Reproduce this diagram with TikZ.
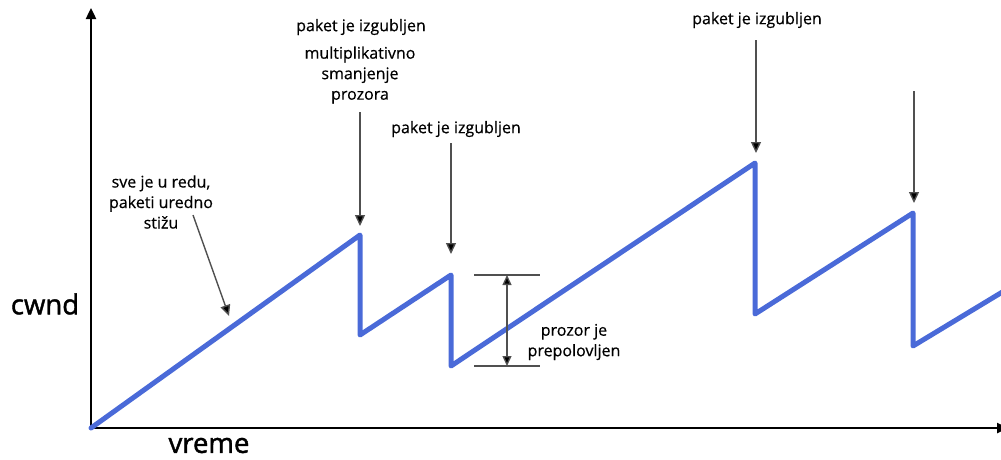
\documentclass[tikz,border=0pt]{standalone}
\usepackage{fontspec}
\setmainfont{Open Sans}
\newfontfamily\labelfont[FakeBold=0.5]{Open Sans}
\newfontfamily\axisfont[FakeBold=1.5]{Open Sans}
\usetikzlibrary{arrows.meta}
\definecolor{cwndblue}{HTML}{4A6AD8}
\definecolor{pointer}{HTML}{505050}
\tikzset{
  axis/.style={line width=2.4pt, black, -{Triangle[length=11pt,width=10pt]}},
  curve/.style={line width=5pt, cwndblue, line join=round, line cap=round},
  pointerarrow/.style={line width=1.4pt, pointer, -{Triangle[length=11pt,width=10pt,fill=black]}},
  lbl/.style={font=\labelfont\fontsize{16}{20.5}\selectfont, align=center, inner sep=0pt},
  biglbl/.style={font=\axisfont\fontsize{27.5}{32}\selectfont, inner sep=0pt},
  tick/.style={line width=1.2pt, pointer}
}
\begin{document}
\begin{tikzpicture}[x=1pt,y=-1pt]
\useasboundingbox (0,0) rectangle (1001,459);

% axes
\coordinate (O) at (91,428);
\coordinate (ytop) at (91,8);
\coordinate (xend) at (1008,428);
\draw[axis] (O) -- (ytop);
\draw[axis] (O) -- (xend);

\node[biglbl] (cwnd) at (45,304) {cwnd};
\node[biglbl] (vreme) at (209,445.5) {vreme};

% congestion window sawtooth
\coordinate (p0) at (91,428);
\coordinate (p1) at (360,235);
\coordinate (p2) at (360,335);
\coordinate (p3) at (451,275);
\coordinate (p4) at (451,366);
\coordinate (p5) at (755,163);
\coordinate (p6) at (755,314);
\coordinate (p7) at (913,213);
\coordinate (p8) at (913,346);
\coordinate (p9) at (1004,291);
\draw[curve] (p0) -- (p1) -- (p2) -- (p3) -- (p4) -- (p5) -- (p6) -- (p7) -- (p8) -- (p9);

% annotations
\node[lbl] (ok) at (161,202) {sve je u redu,\\paketi uredno\\stižu};
\coordinate (okfrom) at (193,215);
\coordinate (okto) at (229,316);
\draw[pointerarrow] (okfrom) -- (okto);

\node[lbl] (loss1) at (361,27) {paket je izgubljen};
\node[lbl] (md) at (360,75) {multiplikativno\\smanjenje\\prozora};
\coordinate (a1from) at (360,112);
\coordinate (a1to) at (360,226);
\draw[pointerarrow] (a1from) -- (a1to);

\node[lbl] (loss2) at (456,129) {paket je izgubljen};
\coordinate (a2from) at (451,143);
\coordinate (a2to) at (451,254);
\draw[pointerarrow] (a2from) -- (a2to);

\node[lbl] (loss3) at (757,20) {paket je izgubljen};
\coordinate (a3from) at (756,40);
\coordinate (a3to) at (756,153);
\draw[pointerarrow] (a3from) -- (a3to);

\coordinate (a4from) at (914,91);
\coordinate (a4to) at (914,203);
\draw[pointerarrow] (a4from) -- (a4to);

% halving marker
\coordinate (hl) at (474,275);
\coordinate (hr) at (540,275);
\coordinate (ll) at (474,366);
\coordinate (lr) at (540,366);
\draw[tick] (hl) -- (hr);
\draw[tick] (ll) -- (lr);
\coordinate (ht) at (507,275);
\coordinate (hb) at (507,366);
\draw[line width=1.3pt, pointer, {Triangle[length=10pt,width=9pt,fill=black]}-{Triangle[length=10pt,width=9pt,fill=black]}] (ht) -- (hb);
\node[lbl] (half) at (574,342) {prozor je\\prepolovljen};
\end{tikzpicture}
\end{document}
